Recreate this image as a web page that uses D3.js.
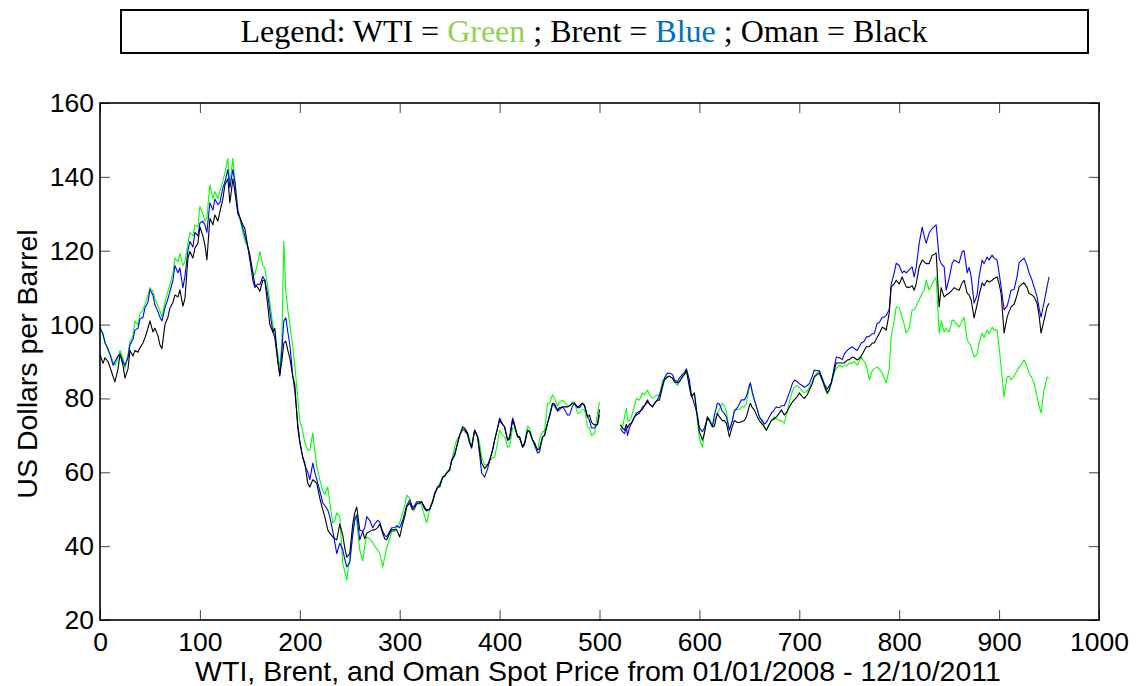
<!DOCTYPE html>
<html>
<head>
<meta charset="utf-8">
<script src="https://cdn.jsdelivr.net/npm/d3@7"></script>
<style>
  html, body { margin: 0; padding: 0; background: #fff; }
  svg { display: block; }
</style>
</head>
<body>
<svg id="chart" width="1141" height="686"></svg>
<script>
// ---- data (trading-day index, spot price in USD/barrel) ----
const days = [
  0,3,5,8,10,13,15,18,20,23,
  25,28,30,33,35,38,40,43,45,48,
  50,53,55,58,60,62,65,68,70,73,
  75,78,80,83,85,88,90,93,95,98,
  100,103,105,107,110,113,115,118,120,123,
  125,128,130,133,135,138,140,143,145,148,
  150,153,155,158,160,163,165,168,170,173,
  175,178,180,182,184,186,188,190,193,195,
  198,200,203,205,208,210,213,215,217,220,
  223,225,228,230,233,235,237,240,243,245,
  247,250,253,255,257,260,263,265,267,270,
  273,275,278,280,283,285,287,290,292,295,
  297,300,303,305,307,310,313,315,317,320,
  322,325,327,330,333,335,338,340,343,345,
  347,350,352,355,357,360,363,365,368,370,
  372,375,378,380,382,385,388,390,393,395,
  398,400,403,405,408,410,413,415,418,420,
  423,425,428,430,433,435,438,440,443,445,
  448,450,453,455,458,460,463,465,468,470,
  473,475,478,480,483,485,488,490,492,495,
  498,500,510,521,523,525,527,528,530,532,
  535,537,540,543,545,548,550,553,555,558,
  560,563,565,568,570,573,575,578,580,583,
  585,587,590,592,595,598,600,603,605,608,
  610,613,615,618,620,623,625,627,630,633,
  635,638,640,642,645,647,650,651,653,655,
  658,660,663,665,667,670,672,675,677,680,
  682,685,688,690,693,695,698,700,703,705,
  708,710,713,715,718,720,723,725,728,730,
  732,735,737,740,743,745,748,750,753,755,
  758,760,762,765,767,770,773,775,778,780,
  783,785,787,790,792,795,797,800,803,805,
  807,810,813,815,817,820,823,825,827,830,
  833,835,837,840,842,845,847,850,853,855,
  858,860,863,865,868,870,872,875,878,880,
  883,885,888,890,893,895,898,900,902,905,
  908,910,912,915,918,920,923,925,928,930,
  933,935,938,940,942,945,948,950
];
const wti = [
  99.6,97,95.5,93,92,90,89,91,93,91,
  88,92,95.5,97,101,100,103,104,105.4,108,
  110,109,107,105,103.6,102,106,109,110.8,114,
  118,117,119.3,116,117,122,125,124,127,126.5,
  132,130,128,129,137.8,134,136,134,136,139,
  141,145,137.8,145,138,130,128.5,125,122.5,121,
  118,114,113.5,117,119.8,116,115.3,110,106,100,
  96.4,92,88,95,122.5,109,104,100,94,89,
  80,74,71,68,66,66,70.6,66,61.5,58,
  55,54,56,52,46.3,47,49,48,35.4,33,
  30.8,37,44,48,47,39,36,40,42.5,42,
  41,40,39,38,34.4,37,39.5,42,44,44,
  45,46.3,49,51,53.8,53,49.8,50,51.5,52,
  51,48,46.3,50,52.5,54,56,57,58.7,59,
  60,61,63,67,68.7,70,72.3,71,70.6,69,
  67,71.4,69.6,68,64,62,62,63,64,64,
  68,71.4,70,69.6,66.8,67,72,72,70,69,
  67,68,72.5,72,69,67,66,69,71,71,
  78.7,78.7,81,80,78,79,79.5,79,78,78,
  79,79,76,76,77,77,72.3,72,70,70.5,
  76,79,null,73,72,75,77.4,74,74,75,
  78,80,79.5,81.5,81,82.3,81,80,80.5,81,
  80.4,85,85,86,86,85.5,84.5,83.5,84.5,86,
  86.5,87,84,80.4,81.5,74,69,66.8,71,75,
  74.5,72.3,74,76,77,78.7,78,76.5,71.4,74,
  76.9,77,77,77.7,77.7,78.5,83,84.2,82,79.6,
  77,75,73.5,72.3,71.4,73,74,75,74.5,74,
  74,73.3,76.5,79,82,83,83.5,83,82,81.5,
  82,83,84.5,86,87,87.5,85,83,81.2,82,
  84,87,88,89,88.5,89,89,89.5,89.5,90,
  89,90,91.2,90,89,85,87.5,88,88.5,88,
  86.9,85.5,84.2,88,96.6,101,104.8,104.5,102,100,
  97.7,99,104,104,105,106.7,108.5,109.3,112,109.3,
  111,112,112.9,97.7,101,98,99,98,101.2,101,
  100,99.3,101,102,95.8,95,94,91.2,92,95,
  97.7,96.5,98.5,97.5,99.3,98.5,98.5,94,88.5,80.4,
  85.8,86,85,86,87.5,88.5,89.5,90.4,88.5,86.9,
  85.5,84.2,80.4,78,76,82.3,85.8,85.5
];
const brent = [
  99,97.5,95,93.5,92,89,90,91.5,92,90,
  89,91,94.5,96,98.5,99,101.5,102,104.5,106,
  109.5,108,105.3,103.5,102,101,104.5,107,109,112,
  116,114,115.3,110,113,120,122.5,121,125,124,
  127.5,128,127,125,133,131,134,132.5,133,137,
  138.6,142,137,142,139,131,129,126,124,121,
  117.5,112,110,111,110.8,113,112,108,103.6,98,
  96.4,90,86,93,101,101.8,98,94.6,86,82,
  73,68.5,64,62,60,58,62.5,60,58,55,
  51.7,51,49.8,48,44,41,38,40.8,39,36.5,
  34.4,35.5,43,47,48.5,41.7,44,45,48,47,
  45,46,47,46.5,44,43,42.5,44,45,45,
  45.5,45,47,49,51,52.5,50.5,51,52,52,
  52,50,49.5,50,52,54,56,56.5,58.5,59,
  59.8,60.6,63,65,67,70,71.5,71.5,70,68,
  66.5,71.5,69.5,65,59.8,58.7,61,63,66,68.7,
  72,74.7,73,72.3,68.7,69.6,74.7,73,69.6,69.6,
  66.8,67.5,71.4,71,68.7,67.5,65.2,65.5,69.6,70,
  73.3,75,78.5,78,76.5,77,77.7,77,75.5,75.5,
  78,78.5,77.5,77.5,78.7,78,75,74,72,72,
  73,75.5,null,72,71,70.5,72,70,72,73.3,
  75,75.5,76,77.7,78,79,78.5,77.7,78.5,79.6,
  81,83.5,85.5,86.9,86.8,86.5,85,84.5,85.5,86.5,
  87,88,85,81,78.5,75.5,72,71,72,74.5,
  74,72.5,75.5,78.7,78.5,76.5,76,75,71.4,74,
  76.5,77.5,78.5,79.6,79.6,80.5,83.5,84.2,81.5,79.6,
  77,75,74,73,73.5,75,76,77,77.7,77.5,
  78,78,80,81.5,84,85,84.5,84,83.5,83,
  83.5,84,86,87.7,87.5,87.5,85.5,84,82.5,83.5,
  84.2,88.5,91.2,91,90.5,92,93,93.5,94,93.5,
  93,94,95,95.5,96.6,96.8,97.5,97.5,100.4,100.5,
  102,102,102.5,104,111,114,116.6,116,114,114.5,
  114,114.8,115.6,112.9,115.5,122,126.4,124,122,124.8,
  126,126.5,127,118,116.5,115.6,109.3,112.5,116.6,117.5,
  117,116.7,119.7,120,114,115.5,113,105.8,108,113,
  117.5,116.5,118.3,117.5,118.8,118,117.5,114,110.2,104,
  105,107,109.3,109.5,113,116.7,117.5,118,116,114,
  112,110.2,107.5,104.5,102,106,110.2,112.9
];
const oman = [
  92,89.5,91,90,88.5,86,84.5,88,92,89,
  85.5,88,93,91.5,93,92.5,93.7,95,96.4,99,
  101,98,99,97,94.5,93.5,100,102,104.5,106,
  108,107.5,109.4,105,107,118,119.8,118,120.7,122,
  126.5,124,121.6,117.5,128.8,127,129.7,128,130.6,134,
  137.8,139.5,133,139.5,136,130,129,127,126,121,
  118.9,114,110.8,110,109,112,112,105,100,98,
  99,90,86.5,90,95,95.5,93,91,86,83.7,
  72,68,64,62.5,57,56,58,57.5,57,53,
  49.8,48,44.4,43.5,42.5,42,41.7,46,43,39.5,
  37,38,46,49,50.6,44.4,44,42,43.5,44,
  44.4,44.4,45,46,43.5,42,41.7,43.5,44.4,44.4,
  44.4,42.5,46,48,50.6,51.7,49.8,50.5,51.5,51.5,
  52,50.5,49.8,50,52,54.4,56,56,58.7,59,
  59.8,60.6,63.3,64.5,66.8,70,72.3,72,70.6,68,
  66.8,71.4,69.6,66,62.5,61,62,63.3,66,68.7,
  72,74,73,72.3,68.7,69,74,72.5,69.6,69.6,
  66.8,68,71.4,71,68.7,68,66,66.5,69.6,70,
  73.3,75.5,78.7,78.5,76.9,77.5,77.7,77.7,77.7,78,
  78.7,78.7,77.7,78,78.7,78.2,75,75.5,73.5,72.8,
  73,77,null,72.8,72,71.4,73,72,73,73.3,
  75,76,76.5,77,78,79.6,78.5,77.7,78.7,79.6,
  79.5,83,85,85.8,86,85.5,84.5,84.2,84.5,85.8,
  86.5,87.7,83,80.4,81.5,75,71,68.7,70.5,75,
  74,72.3,72.5,76,75,74,74,73.3,69.6,72.5,
  74,73.5,73.5,73.7,74,75,78,78.7,77.5,76.9,
  75,74,73,72.3,71.4,73,74,74.5,75,76,
  76.9,75.5,76.5,77.7,79,79.6,80.5,81.5,80.5,80,
  81,82.3,84,85.8,86.5,86.9,85,83.6,81.5,82.5,
  84.2,87.5,89.6,89.6,89.6,89.6,90.4,90.5,91.2,91,
  90.4,90.8,91.5,93,94,94,95,95,96.6,97.5,
  99.3,99,98.5,103.1,110.2,111,112,111,112.9,111.5,
  110.2,110,110.5,109.3,111,115.6,117.5,117,116.5,116.5,
  118.8,119,119.4,104.8,110,107.5,108,108.5,109.3,110,
  109.5,109.3,111.3,112,108.5,108,106.7,101.8,105.5,108,
  111.3,110.5,112,111.5,112,112.5,112.9,111,108.4,97.7,
  102,103.5,104.8,105.5,108,110.2,111,111.3,110,108.4,
  108,107.5,105.8,102.5,97.7,101.2,104.8,105.8
];
const xTicks = [0,100,200,300,400,500,600,700,800,900,1000];
const yTicks = [20,40,60,80,100,120,140,160];
const legendParts = [
  {text: "Legend: WTI = ", color: "#000"},
  {text: "Green", color: "#92d050"},
  {text: " ; Brent = ", color: "#000"},
  {text: "Blue", color: "#0070c0"},
  {text: " ; Oman = Black", color: "#000"}
];
const seriesList = [
  {name: "WTI", values: wti, color: "#00ff00"},
  {name: "Brent", values: brent, color: "#0000ff"},
  {name: "Oman", values: oman, color: "#000000"}
];

// ---- layout ----
const svg = d3.select("#chart");
const L = 100, R = 1099, T = 103, B = 620;
const x = d3.scaleLinear().domain([0, 1000]).range([L, R]);
const y = d3.scaleLinear().domain([20, 160]).range([B, T]);
const sans = "Arial, 'Liberation Sans', Helvetica, sans-serif";

// legend box
svg.append("rect").attr("x", 121).attr("y", 10).attr("width", 967).attr("height", 43)
  .attr("fill", "#fff").attr("stroke", "#000").attr("stroke-width", 2);
const lt = svg.append("text").attr("x", 584).attr("y", 42)
  .attr("text-anchor", "middle")
  .attr("font-family", "'Times New Roman', 'Liberation Serif', serif")
  .attr("font-size", 32);
legendParts.forEach(p => lt.append("tspan").attr("fill", p.color).text(p.text));

// lines
const n = Math.min(days.length, wti.length, brent.length, oman.length);
seriesList.forEach(s => {
  const pts = d3.range(n).map(i => ({d: days[i], v: s.values[i]}));
  const line = d3.line()
    .defined(p => p.v !== null)
    .x(p => x(p.d)).y(p => y(p.v));
  svg.append("path").datum(pts)
    .attr("fill", "none").attr("stroke", s.color)
    .attr("stroke-width", 1.1).attr("stroke-linejoin", "round")
    .attr("d", line);
});

// axes (MATLAB-style box with inward ticks)
const tickLen = 10;
const fmt = d3.format("d");
const axB = svg.append("g").attr("transform", `translate(0,${B})`)
  .call(d3.axisBottom(x).tickValues(xTicks).tickFormat(fmt).tickSizeInner(-tickLen).tickSizeOuter(0).tickPadding(12));
const axT = svg.append("g").attr("transform", `translate(0,${T})`)
  .call(d3.axisTop(x).tickValues(xTicks).tickSizeInner(-tickLen).tickSizeOuter(0).tickFormat(""));
const axL = svg.append("g").attr("transform", `translate(${L},0)`)
  .call(d3.axisLeft(y).tickValues(yTicks).tickFormat(fmt).tickSizeInner(-tickLen).tickSizeOuter(0).tickPadding(6));
const axR = svg.append("g").attr("transform", `translate(${R},0)`)
  .call(d3.axisRight(y).tickValues(yTicks).tickSizeInner(-tickLen).tickSizeOuter(0).tickFormat(""));
[axB, axT, axL, axR].forEach(g => {
  g.select(".domain").remove();
  g.selectAll(".tick line").attr("stroke", "#444").attr("stroke-width", 1);
  g.selectAll(".tick text").attr("fill", "#000")
    .attr("font-family", sans).attr("font-size", 26.5);
});
axB.selectAll(".tick text").attr("dy", "0.71em");
// frame
svg.append("rect").attr("x", L).attr("y", T).attr("width", R - L).attr("height", B - T)
  .attr("fill", "none").attr("stroke", "#000").attr("stroke-width", 1.6);

// axis titles
svg.append("text").attr("x", 598).attr("y", 681).attr("text-anchor", "middle")
  .attr("font-family", sans).attr("font-size", 28.5).attr("fill", "#000")
  .text("WTI, Brent, and Oman Spot Price from 01/01/2008 - 12/10/2011");
svg.append("text").attr("transform", "translate(37,364) rotate(-90)")
  .attr("text-anchor", "middle")
  .attr("font-family", sans).attr("font-size", 28.5).attr("fill", "#000")
  .text("US Dollars per Barrel");
</script>
</body>
</html>
